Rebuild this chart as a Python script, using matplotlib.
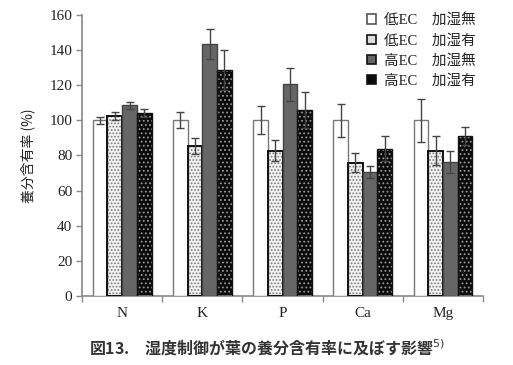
import matplotlib
matplotlib.use("Agg")
import matplotlib.pyplot as plt
import numpy as np
from matplotlib.patches import Patch

plt.rcParams['font.family'] = ['Liberation Serif', 'Noto Sans CJK JP']
plt.rcParams['hatch.linewidth'] = 0.8

categories = ['N', 'K', 'P', 'Ca', 'Mg']
series_names = ['低EC\u3000加湿無', '低EC\u3000加湿有', '高EC\u3000加湿無', '高EC\u3000加湿有']
low_dry = [100, 100, 100, 100, 100]
low_hum = [102.7, 85.5, 82.8, 76.0, 82.8]
high_dry = [108.5, 143.5, 120.5, 70.8, 76.3]
high_hum = [104.0, 128.8, 106.0, 83.8, 91.3]
err_low_dry = [2.0, 4.5, 8.0, 9.5, 12.3]
err_low_hum = [2.3, 4.4, 6.0, 5.6, 8.2]
err_high_dry = [2.2, 8.5, 9.5, 3.5, 6.5]
err_high_hum = [2.2, 11.4, 10.2, 7.2, 5.2]
yticks = [0, 20, 40, 60, 80, 100, 120, 140, 160]

values = [low_dry, low_hum, high_dry, high_hum]
errors = [err_low_dry, err_low_hum, err_high_dry, err_high_hum]
faces = ['white', '#f2f2f2', '#666666', '#0a0a0a']
hatches = [None, '.....', None, '....']
hatch_cols = [None, '#777777', None, '#999999']
edges = ['#777777', '#111111', '#444444', '#111111']
ewidths = [1.0, 1.4, 1.0, 1.0]

fig = plt.figure(figsize=(5.13, 3.65), dpi=100)
ax = fig.add_axes([0.16, 0.189, 0.7815, 0.77])

x = np.arange(len(categories))
w = 0.183
offsets = (np.arange(4) - 1.5) * w
for i in range(4):
    pos = x + offsets[i]
    if hatches[i]:
        ax.bar(pos, values[i], w, color=faces[i], edgecolor=hatch_cols[i],
               hatch=hatches[i], linewidth=0, zorder=2)
        ax.bar(pos, values[i], w, fill=False, edgecolor=edges[i],
               linewidth=ewidths[i], zorder=3)
    else:
        ax.bar(pos, values[i], w, color=faces[i], edgecolor=edges[i],
               linewidth=ewidths[i], zorder=3)
    ax.errorbar(pos, values[i], yerr=errors[i], fmt='none', ecolor='#444444',
                elinewidth=1.0, capsize=3, capthick=1.0, zorder=4)

ax.set_xlim(-0.5, len(categories) - 0.5)
ax.set_ylim(0, 160)
ax.set_yticks(yticks)
ax.set_yticklabels([str(t) for t in yticks], fontsize=11, color='#222222')
ax.set_xticks(x)
ax.set_xticklabels(categories, fontsize=11, color='#222222')
ax.set_xticks(np.arange(len(categories) + 1) - 0.5, minor=True)
ax.tick_params(axis='x', which='major', length=0, pad=8)
ax.tick_params(axis='x', which='minor', length=4, color='#888888', width=1)
ax.tick_params(axis='y', length=4, color='#888888', width=1, pad=3)
for s in ['top', 'right']:
    ax.spines[s].set_visible(False)
for s in ['left', 'bottom']:
    ax.spines[s].set_color('#888888')
    ax.spines[s].set_linewidth(1.2)

ax.set_ylabel('養分含有率 (%)', fontsize=10, color='#222222',
              family=['Noto Sans CJK JP', 'DejaVu Sans'], labelpad=10)

handles = []
for i in range(4):
    handles.append(Patch(facecolor=faces[i] if i != 1 else '#dddddd',
                         edgecolor='#111111' if i != 0 else '#555555',
                         linewidth=1.2))
leg = fig.legend(handles, series_names, loc='upper left',
                 bbox_to_anchor=(0.69, 1.0), frameon=False,
                 fontsize=10.5, handlelength=0.6, handleheight=0.6,
                 handletextpad=0.55, labelspacing=0.45)
for t in leg.get_texts():
    t.set_color('#222222')

fig.text(0.52, 0.048, '図13.\u3000湿度制御が葉の養分含有率に及ぼす影響$^{5)}$',
         ha='center', va='center', fontsize=11.5, fontweight='bold',
         color='#333333', family=['Noto Sans CJK JP', 'DejaVu Sans'])

fig.savefig('out.png', dpi=100)
